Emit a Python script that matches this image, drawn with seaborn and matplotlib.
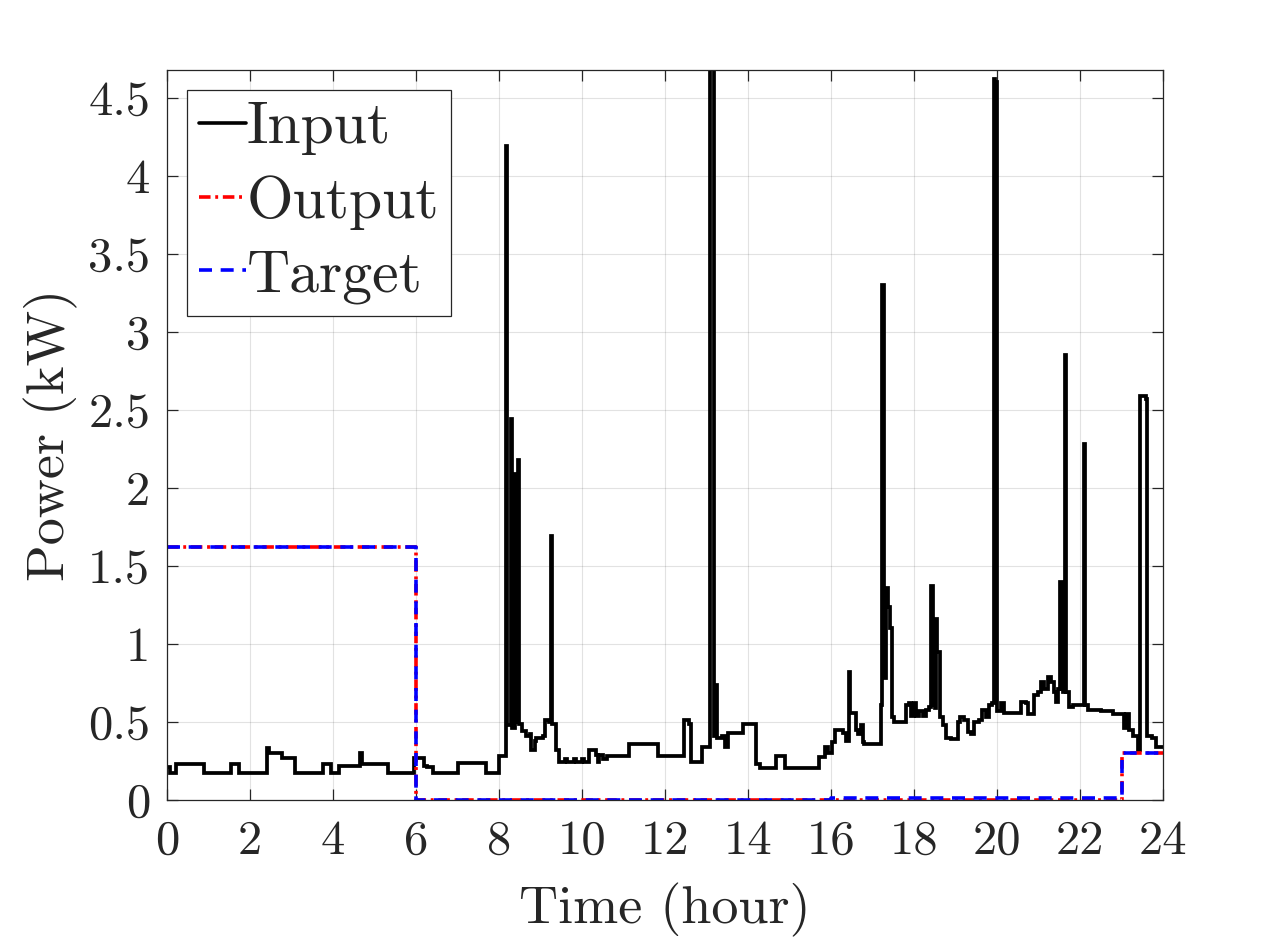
import numpy as np
import pandas as pd
import matplotlib
matplotlib.use("Agg")
import matplotlib.pyplot as plt
import seaborn as sns

# ---------------- data ----------------
input_hours = [
    0.00, 0.05, 0.08, 0.18, 0.22, 0.84, 0.88, 1.50, 1.54, 1.70, 1.74, 2.34, 2.40, 2.46,
    2.74, 2.78, 3.04, 3.08, 3.73, 3.77, 3.92, 3.96, 4.11, 4.15, 4.60, 4.65, 4.70, 5.28,
    5.32, 5.88, 5.94, 6.15, 6.20, 6.26, 6.40, 6.96, 7.02, 7.65, 7.69, 7.96, 8.00, 8.12,
    8.17, 8.20, 8.25, 8.29, 8.32, 8.36, 8.39, 8.42, 8.45, 8.48, 8.55, 8.66, 8.74, 8.78,
    8.86, 8.90, 9.05, 9.12, 9.20, 9.25, 9.28, 9.37, 9.45, 9.60, 9.65, 9.80, 9.85, 10.00,
    10.05, 10.14, 10.18, 10.30, 10.33, 10.38, 10.42, 10.50, 10.60, 11.10, 11.14, 11.80,
    11.84, 12.42, 12.46, 12.58, 12.62, 12.86, 12.90, 13.04, 13.08, 13.14, 13.18, 13.23,
    13.26, 13.38, 13.45, 13.53, 13.85, 13.88, 14.08, 14.20, 14.28, 14.65, 14.68, 14.84,
    14.88, 15.66, 15.70, 15.80, 15.85, 15.92, 16.02, 16.10, 16.28, 16.36, 16.40, 16.43,
    16.46, 16.54, 16.60, 16.66, 16.72, 16.77, 16.80, 17.16, 17.20, 17.24, 17.27, 17.32,
    17.37, 17.42, 17.46, 17.52, 17.77, 17.80, 17.88, 17.93, 17.99, 18.04, 18.13, 18.21,
    18.29, 18.37, 18.42, 18.45, 18.50, 18.53, 18.56, 18.58, 18.62, 18.70, 18.78, 18.90,
    19.05, 19.10, 19.20, 19.29, 19.37, 19.45, 19.57, 19.65, 19.73, 19.80, 19.88, 19.92,
    19.96, 19.99, 20.02, 20.10, 20.18, 20.54, 20.58, 20.70, 20.74, 20.90, 20.98, 21.06,
    21.14, 21.22, 21.30, 21.38, 21.42, 21.48, 21.53, 21.56, 21.59, 21.63, 21.66, 21.74,
    21.82, 22.06, 22.10, 22.13, 22.20, 22.50, 22.80, 22.99, 23.05, 23.10, 23.19, 23.27,
    23.39, 23.45, 23.58, 23.62, 23.74, 23.84, 24.00,
]
input_kw = [
    0.21, 0.21, 0.17, 0.17, 0.23, 0.23, 0.17, 0.17, 0.23, 0.23, 0.17, 0.17, 0.335, 0.30,
    0.30, 0.27, 0.27, 0.17, 0.17, 0.23, 0.23, 0.17, 0.17, 0.22, 0.22, 0.30, 0.23, 0.23,
    0.17, 0.17, 0.27, 0.27, 0.22, 0.21, 0.17, 0.17, 0.24, 0.24, 0.17, 0.17, 0.28, 0.28,
    4.19, 0.48, 0.48, 2.44, 0.46, 0.46, 2.09, 0.50, 2.18, 0.49, 0.44, 0.41, 0.42, 0.32,
    0.38, 0.40, 0.41, 0.51, 0.50, 1.69, 0.49, 0.32, 0.245, 0.26, 0.245, 0.26, 0.245, 0.26,
    0.245, 0.245, 0.32, 0.32, 0.29, 0.245, 0.29, 0.26, 0.28, 0.28, 0.36, 0.36,
    0.28, 0.28, 0.51, 0.49, 0.245, 0.245, 0.34, 0.34, 4.95, 4.95, 0.41, 0.74,
    0.40, 0.41, 0.34, 0.43, 0.43, 0.49, 0.49, 0.23, 0.205, 0.205, 0.28, 0.28,
    0.205, 0.205, 0.275, 0.275, 0.34, 0.30, 0.37, 0.45, 0.43, 0.38, 0.38, 0.82,
    0.56, 0.56, 0.45, 0.42, 0.48, 0.37, 0.36, 0.36, 0.61, 3.30, 0.78, 1.36,
    1.24, 1.10, 0.53, 0.50, 0.50, 0.61, 0.62, 0.54, 0.62, 0.54, 0.57, 0.54,
    0.58, 0.595, 1.37, 0.61, 0.59, 1.16, 0.95, 0.95, 0.53, 0.48, 0.40, 0.39,
    0.50, 0.53, 0.51, 0.435, 0.42, 0.50, 0.51, 0.58, 0.53, 0.61, 0.62, 4.62,
    4.60, 0.57, 0.57, 0.62, 0.56, 0.56, 0.63, 0.62, 0.55, 0.675, 0.69, 0.755,
    0.71, 0.79, 0.755, 0.69, 0.63, 0.71, 1.40, 0.71, 0.69, 2.85, 0.69, 0.595,
    0.61, 0.61, 2.28, 0.61, 0.58, 0.57, 0.55, 0.55, 0.46, 0.55, 0.45, 0.41,
    0.32, 2.59, 2.57, 0.41, 0.40, 0.34, 0.34,
]

output_hours = [0.0, 6.0, 6.0, 23.0, 23.0, 24.0]
output_kw = [1.62, 1.62, 0.0, 0.0, 0.30, 0.30]

target_hours = [0.0, 6.0, 6.0, 16.0, 16.0, 23.0, 23.0, 24.0]
target_kw = [1.62, 1.62, 0.0, 0.0, 0.015, 0.015, 0.30, 0.30]

series_names = ["Input", "Output", "Target"]
x_ticks = list(range(0, 25, 2))
y_ticks = [0, 0.5, 1, 1.5, 2, 2.5, 3, 3.5, 4, 4.5]
y_tick_labels = ["0", "0.5", "1", "1.5", "2", "2.5", "3", "3.5", "4", "4.5"]
x_label = "Time (hour)"
y_label = "Power (kW)"

# ---------------- style ----------------
sns.set_style("ticks")
plt.rcParams["font.family"] = ["cmr10", "DejaVu Serif"]
plt.rcParams["mathtext.fontset"] = "cm"
plt.rcParams["axes.formatter.use_mathtext"] = True
plt.rcParams["axes.unicode_minus"] = False

fig = plt.figure(figsize=(12.86, 9.42), dpi=100)
ax = fig.add_axes([167 / 1286, 142 / 942, 996 / 1286, 730 / 942])

sns.lineplot(x=input_hours, y=input_kw, ax=ax, estimator=None, sort=False,
             color="black", linewidth=2.7, drawstyle="steps-post",
             label=series_names[0])
sns.lineplot(x=output_hours, y=output_kw, ax=ax, estimator=None, sort=False,
             color="#ff0000", linewidth=2.6, label=series_names[1])
sns.lineplot(x=target_hours, y=target_kw, ax=ax, estimator=None, sort=False,
             color="#0000ff", linewidth=2.6, label=series_names[2])

lines = ax.get_lines()
lines[0].set_solid_joinstyle("miter")
lines[1].set_linestyle((0, (3.2, 1.3, 0.8, 1.3)))
lines[2].set_linestyle((0, (3.6, 2.4)))

ax.set_xlim(0, 24)
ax.set_ylim(0, 4.68)
ax.set_xticks(x_ticks)
ax.set_xticklabels([str(t) for t in x_ticks])
ax.set_yticks(y_ticks)
ax.set_yticklabels(y_tick_labels)

ax.grid(True, color="#262626", alpha=0.13, linewidth=0.8)
for s in ax.spines.values():
    s.set_visible(True)
    s.set_color("#262626")
    s.set_linewidth(0.9)

ax.tick_params(axis="both", which="major", direction="in", length=8, width=0.9,
               color="#262626", top=True, right=True, labelsize=35,
               labelcolor="#262626")
ax.tick_params(axis="x", pad=14)
ax.tick_params(axis="y", pad=12)

ax.set_xlabel(x_label, fontsize=39, color="#262626", labelpad=14)
ax.set_ylabel(y_label, fontsize=39, color="#262626", labelpad=7)

leg = ax.legend(loc="upper left", fontsize=43, frameon=True, fancybox=False,
                edgecolor="#262626", framealpha=1.0, handlelength=0.8,
                handletextpad=0.0, borderpad=0.2, labelspacing=0.33,
                borderaxespad=0.33)
leg.get_frame().set_linewidth(0.9)
for h in leg.get_lines():
    h.set_linewidth(2.6)

fig.savefig("out.png", dpi=100, facecolor="white")
